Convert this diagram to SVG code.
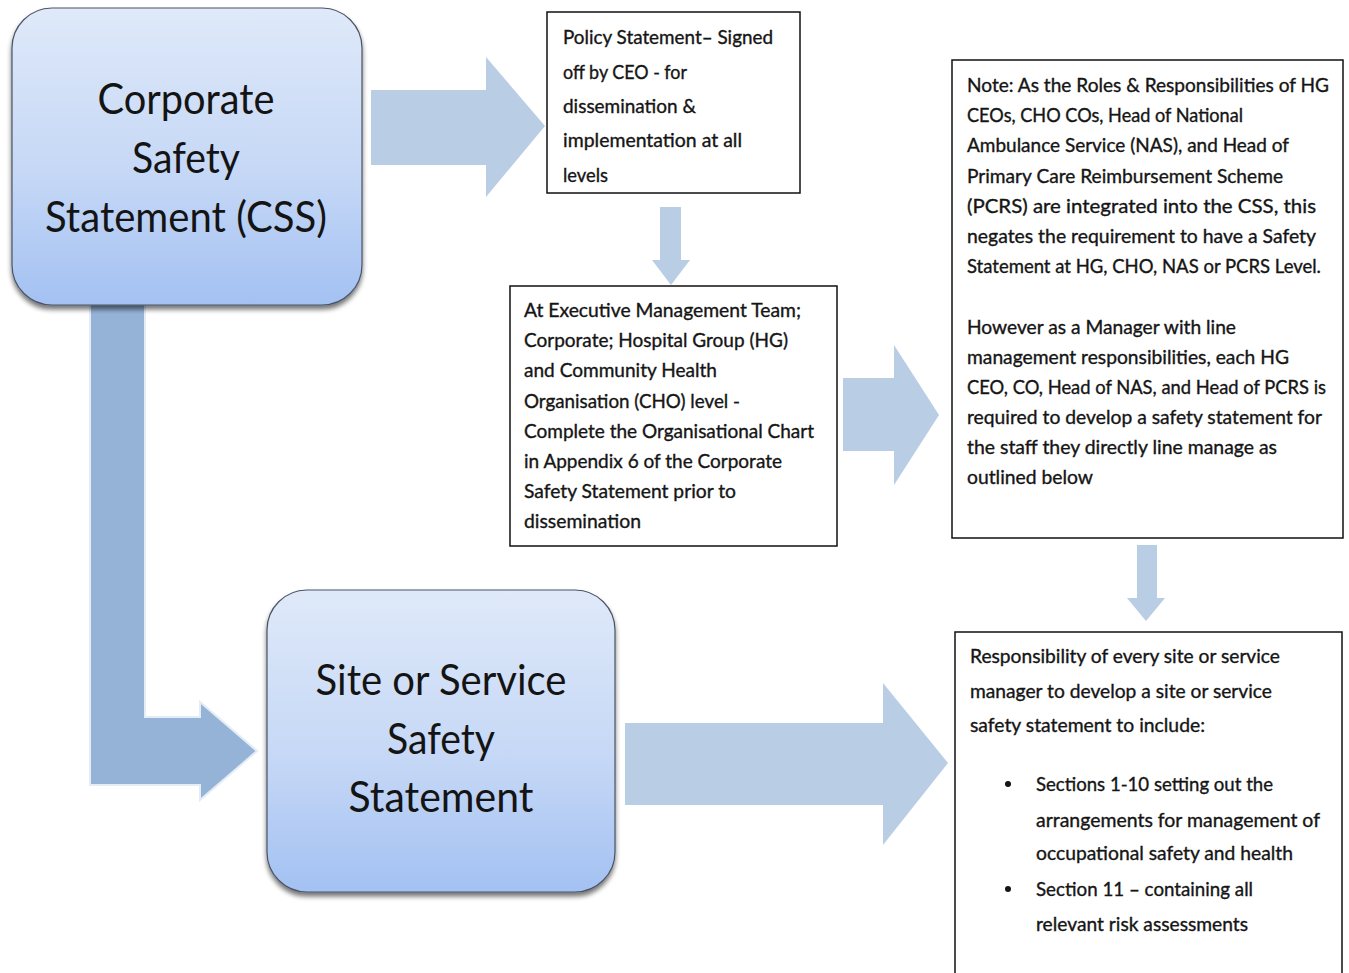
<svg xmlns="http://www.w3.org/2000/svg" width="1349" height="973" viewBox="0 0 1349 973">
  <defs>
    <linearGradient id="boxFill" x1="0" y1="0" x2="0" y2="1">
      <stop offset="0" stop-color="#dfe9f9"/>
      <stop offset="0.55" stop-color="#c6d8f6"/>
      <stop offset="1" stop-color="#a3c1f2"/>
    </linearGradient>
    <filter id="dropShadow" x="-10%" y="-10%" width="120%" height="125%">
      <feGaussianBlur in="SourceAlpha" stdDeviation="2.5"/>
      <feOffset dx="0" dy="4" result="blur"/>
      <feComponentTransfer><feFuncA type="linear" slope="0.55"/></feComponentTransfer>
      <feMerge><feMergeNode/><feMergeNode in="SourceGraphic"/></feMerge>
    </filter>
    <style>
      .big { font-family: Lato, "Liberation Sans", sans-serif; font-size: 42px; fill: #141414; text-anchor: middle; }
      .txt { font-family: Lato, "Liberation Sans", sans-serif; font-size: 19px; fill: #151515; stroke: #151515; stroke-width: 0.35; }
      .frame { fill: #ffffff; stroke: #111111; stroke-width: 1.5; }
      .rbox { fill: url(#boxFill); stroke: #4a5566; stroke-width: 1.2; filter: url(#dropShadow); }
      .arrow { fill: #b9cde5; }
      .bent { fill: #95b3d7; stroke: #e4ecf6; stroke-width: 2; }
    </style>
  </defs>

  <rect width="1349" height="973" fill="#ffffff"/>

  <!-- connectors: block arrows -->
  <g id="connectors">
    <!-- bent arrow from corporate statement down to site statement -->
    <polygon class="bent" points="90,296 145,296 145,717 200,717 200,702 257,751 200,800 200,785 90,785"/>
    <!-- corporate statement to policy statement -->
    <polygon class="arrow" points="371,90 486,90 486,57 545,126 486,197 486,165 371,165"/>
    <!-- policy statement down to executive level -->
    <polygon class="arrow" points="660,207 681,207 681,260 690,260 671,285 652,260 660,260"/>
    <!-- executive level to note -->
    <polygon class="arrow" points="843,378 894,378 894,345 939,415 894,485 894,451 843,451"/>
    <!-- note down to site responsibility -->
    <polygon class="arrow" points="1137,545 1157,545 1157,598 1165,598 1146,621 1127,598 1137,598"/>
    <!-- site statement to site responsibility -->
    <polygon class="arrow" points="625,723 883,723 883,683 948,763 883,845 883,805 625,805"/>
  </g>

  <g id="corporate-safety-statement">
    <rect class="rbox" x="12" y="8" width="350" height="297" rx="40" ry="40"/>
    <text class="big" x="186" y="114" textLength="177" lengthAdjust="spacingAndGlyphs">Corporate</text>
    <text class="big" x="186" y="173" textLength="108" lengthAdjust="spacingAndGlyphs">Safety</text>
    <text class="big" x="186" y="232" textLength="282" lengthAdjust="spacingAndGlyphs">Statement (CSS)</text>
  </g>

  <g id="site-service-safety-statement">
    <rect class="rbox" x="267" y="590" width="348" height="302" rx="40" ry="40"/>
    <text class="big" x="441" y="695" textLength="251" lengthAdjust="spacingAndGlyphs">Site or Service</text>
    <text class="big" x="441" y="754" textLength="108" lengthAdjust="spacingAndGlyphs">Safety</text>
    <text class="big" x="441" y="812" textLength="185" lengthAdjust="spacingAndGlyphs">Statement</text>
  </g>

  <g id="policy-statement">
    <rect class="frame" x="547" y="12" width="253" height="181"/>
    <text class="txt" x="563" y="44" textLength="210" lengthAdjust="spacingAndGlyphs">Policy Statement– Signed</text>
    <text class="txt" x="563" y="79" textLength="124" lengthAdjust="spacingAndGlyphs">off by CEO - for</text>
    <text class="txt" x="563" y="113" textLength="133" lengthAdjust="spacingAndGlyphs">dissemination &amp;</text>
    <text class="txt" x="563" y="147" textLength="179" lengthAdjust="spacingAndGlyphs">implementation at all</text>
    <text class="txt" x="563" y="182" textLength="45" lengthAdjust="spacingAndGlyphs">levels</text>
  </g>

  <g id="executive-level">
    <rect class="frame" x="510" y="286" width="327" height="260"/>
    <text class="txt" x="524" y="317" textLength="277" lengthAdjust="spacingAndGlyphs">At Executive Management Team;</text>
    <text class="txt" x="524" y="347" textLength="264" lengthAdjust="spacingAndGlyphs">Corporate; Hospital Group (HG)</text>
    <text class="txt" x="524" y="377" textLength="193" lengthAdjust="spacingAndGlyphs">and Community Health</text>
    <text class="txt" x="524" y="408" textLength="216" lengthAdjust="spacingAndGlyphs">Organisation (CHO) level -</text>
    <text class="txt" x="524" y="438" textLength="290" lengthAdjust="spacingAndGlyphs">Complete the Organisational Chart</text>
    <text class="txt" x="524" y="468" textLength="258" lengthAdjust="spacingAndGlyphs">in Appendix 6 of the Corporate</text>
    <text class="txt" x="524" y="498" textLength="212" lengthAdjust="spacingAndGlyphs">Safety Statement prior to</text>
    <text class="txt" x="524" y="528" textLength="117" lengthAdjust="spacingAndGlyphs">dissemination</text>
  </g>

  <g id="note">
    <rect class="frame" x="952" y="60" width="391" height="478"/>
    <text class="txt" x="967" y="92" textLength="362" lengthAdjust="spacingAndGlyphs">Note: As the Roles &amp; Responsibilities of HG</text>
    <text class="txt" x="967" y="122" textLength="276" lengthAdjust="spacingAndGlyphs">CEOs, CHO COs, Head of National</text>
    <text class="txt" x="967" y="152" textLength="322" lengthAdjust="spacingAndGlyphs">Ambulance Service (NAS), and Head of</text>
    <text class="txt" x="967" y="183" textLength="316" lengthAdjust="spacingAndGlyphs">Primary Care Reimbursement Scheme</text>
    <text class="txt" x="967" y="213" textLength="349" lengthAdjust="spacingAndGlyphs">(PCRS) are integrated into the CSS, this</text>
    <text class="txt" x="967" y="243" textLength="349" lengthAdjust="spacingAndGlyphs">negates the requirement to have a Safety</text>
    <text class="txt" x="967" y="273" textLength="354" lengthAdjust="spacingAndGlyphs">Statement at HG, CHO, NAS or PCRS Level.</text>
    <text class="txt" x="967" y="334" textLength="269" lengthAdjust="spacingAndGlyphs">However as a Manager with line</text>
    <text class="txt" x="967" y="364" textLength="322" lengthAdjust="spacingAndGlyphs">management responsibilities, each HG</text>
    <text class="txt" x="967" y="394" textLength="359" lengthAdjust="spacingAndGlyphs">CEO, CO, Head of NAS, and Head of PCRS is</text>
    <text class="txt" x="967" y="424" textLength="355" lengthAdjust="spacingAndGlyphs">required to develop a safety statement for</text>
    <text class="txt" x="967" y="454" textLength="310" lengthAdjust="spacingAndGlyphs">the staff they directly line manage as</text>
    <text class="txt" x="967" y="484" textLength="126" lengthAdjust="spacingAndGlyphs">outlined below</text>
  </g>

  <g id="site-responsibility">
    <rect class="frame" x="955" y="632" width="387" height="350"/>
    <text class="txt" x="970" y="663" textLength="310" lengthAdjust="spacingAndGlyphs">Responsibility of every site or service</text>
    <text class="txt" x="970" y="698" textLength="302" lengthAdjust="spacingAndGlyphs">manager to develop a site or service</text>
    <text class="txt" x="970" y="732" textLength="235" lengthAdjust="spacingAndGlyphs">safety statement to include:</text>
    <circle cx="1008" cy="784" r="3" fill="#151515"/>
    <text class="txt" x="1036" y="791" textLength="237" lengthAdjust="spacingAndGlyphs">Sections 1-10 setting out the</text>
    <text class="txt" x="1036" y="827" textLength="284" lengthAdjust="spacingAndGlyphs">arrangements for management of</text>
    <text class="txt" x="1036" y="860" textLength="257" lengthAdjust="spacingAndGlyphs">occupational safety and health</text>
    <circle cx="1008" cy="889" r="3" fill="#151515"/>
    <text class="txt" x="1036" y="896" textLength="217" lengthAdjust="spacingAndGlyphs">Section 11 – containing all</text>
    <text class="txt" x="1036" y="931" textLength="212" lengthAdjust="spacingAndGlyphs">relevant risk assessments</text>
  </g>
</svg>
